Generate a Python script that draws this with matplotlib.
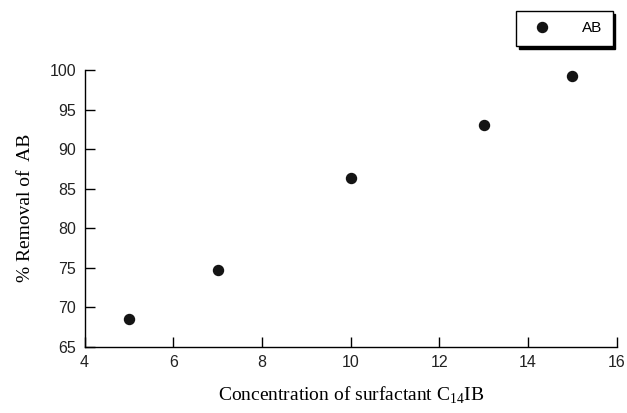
import matplotlib
matplotlib.use("Agg")
import matplotlib.pyplot as plt

# --- Data ---
concentration = [5, 7, 10, 13, 15]
removal_ab = [68.5, 74.7, 86.3, 93.1, 99.3]
x_ticks = [4, 6, 8, 10, 12, 14, 16]
y_ticks = [65, 70, 75, 80, 85, 90, 95, 100]

plt.rcParams["mathtext.fontset"] = "custom"
plt.rcParams["mathtext.rm"] = "Liberation Serif"

fig = plt.figure(figsize=(6.27, 4.13), dpi=100)
ax = fig.add_axes([0.1348, 0.161, 0.849, 0.6695])

ax.plot(concentration, removal_ab, linestyle="none", marker="o",
        markersize=7.2, color="#141414", label="AB")

ax.set_xlim(4, 16)
ax.set_ylim(65, 100)
ax.set_xticks(x_ticks)
ax.set_yticks(y_ticks)

for side in ("top", "right"):
    ax.spines[side].set_visible(False)
for side in ("left", "bottom"):
    ax.spines[side].set_linewidth(1.0)

ax.tick_params(direction="in", length=7, width=1.0, pad=6)
for lbl in ax.get_xticklabels() + ax.get_yticklabels():
    lbl.set_fontfamily("Liberation Sans")
    lbl.set_fontsize(11.5)
    lbl.set_color("#222222")

ax.set_xlabel(r"Concentration of surfactant C$_{\mathregular{14}}$IB",
              family="Liberation Serif", fontsize=14, labelpad=11)
ax.set_ylabel("% Removal of  AB", family="Liberation Serif", fontsize=14,
              labelpad=11)

leg = ax.legend(loc="center", bbox_to_anchor=(0.9, 0.931),
                bbox_transform=fig.transFigure, frameon=True, fancybox=False,
                shadow={"color": "black", "alpha": 1.0}, edgecolor="black",
                prop={"family": "Liberation Sans", "size": 11},
                handletextpad=1.6, borderpad=0.7, borderaxespad=0)
leg.get_frame().set_linewidth(1.0)

fig.savefig("out.png", dpi=100)
